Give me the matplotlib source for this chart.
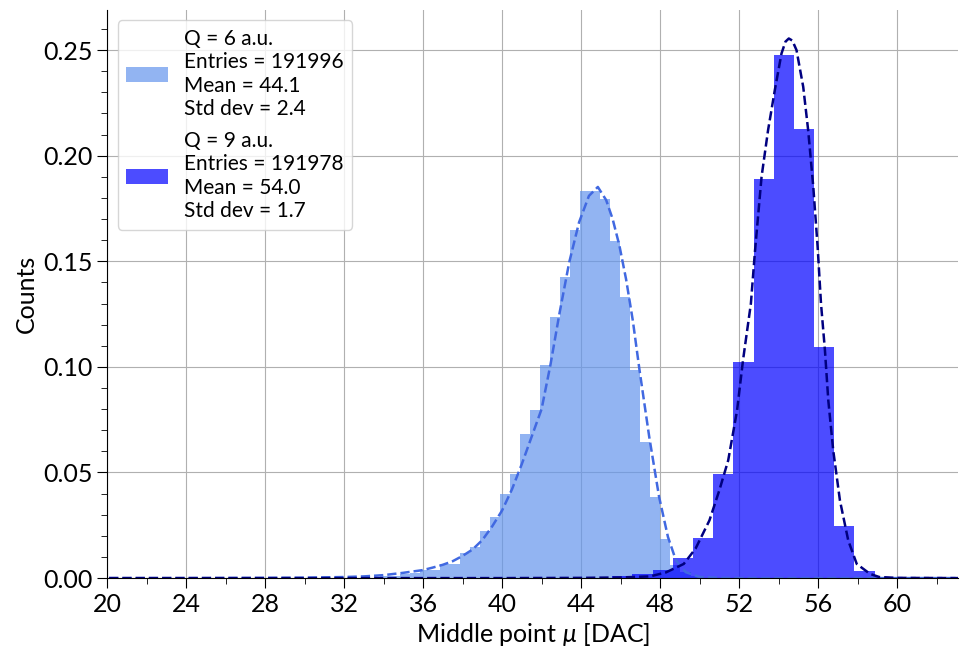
import numpy as np
import matplotlib
matplotlib.use("Agg")
import matplotlib.pyplot as plt
from matplotlib.ticker import MultipleLocator, FormatStrFormatter

plt.rcParams['font.family'] = ['Lato', 'DejaVu Sans']
plt.rcParams['mathtext.fontset'] = 'custom'
plt.rcParams['mathtext.it'] = 'Lato:italic'
plt.rcParams['mathtext.rm'] = 'Lato'

# Q = 6 a.u. histogram (normalised), 32 bins
q6_range = (33.81, 50.05)
q6_heights = [0.0008, 0.0012, 0.0018, 0.0025, 0.0036, 0.0040, 0.0067, 0.0067,
              0.0118, 0.0149, 0.0225, 0.0288, 0.0396, 0.0494, 0.0683, 0.0794,
              0.1007, 0.1236, 0.1424, 0.1647, 0.1832, 0.1832, 0.1797, 0.1595,
              0.1329, 0.0983, 0.0644, 0.0386, 0.0186, 0.0060, 0.0030, 0.0012]

# Q = 9 a.u. histogram (normalised), 14 bins
q9_range = (45.58, 59.89)
q9_heights = [0.0008, 0.0020, 0.0036, 0.0096, 0.0192, 0.0492, 0.1021,
              0.1889, 0.2476, 0.2126, 0.1092, 0.0249, 0.0032, 0.0003]

# fitted curves
fit6_x = [20.1, 24, 28, 30, 32, 33, 34, 35, 36, 36.5, 37, 37.5, 38, 38.5, 39,
          39.5, 40, 40.5, 41, 41.5, 42, 42.45, 42.9, 43.4, 43.9, 44.4, 44.85,
          45.27, 45.6, 45.94, 46.28, 46.62, 46.96, 47.45, 47.95, 48.4, 48.8,
          49.3, 50, 51, 52, 63.1]
fit6_y = [0.0, 0.0, 0.0001, 0.0002, 0.0005, 0.0008, 0.0014, 0.0025, 0.0038,
          0.0050, 0.0063, 0.0080, 0.0105, 0.0135, 0.0180, 0.0245, 0.0320,
          0.0420, 0.0540, 0.0670, 0.0800, 0.1010, 0.1250, 0.1495, 0.1685,
          0.1810, 0.1852, 0.1790, 0.1700, 0.1575, 0.1415, 0.1220, 0.0985,
          0.0670, 0.0385, 0.0195, 0.0085, 0.0028, 0.0005, 0.0001, 0.0, 0.0]

fit9_x = [20.1, 40, 44, 46, 47.5, 48.3, 49.2, 49.8, 50.5, 51.0, 51.45, 51.9,
          52.2, 52.6, 52.8, 53.14, 53.47, 53.81, 54.15, 54.35, 54.52, 54.7,
          54.91, 55.25, 55.5, 55.76, 55.98, 56.15, 56.35, 56.52, 56.77, 57.11,
          57.53, 57.96, 58.63, 59.1, 60, 63.1]
fit9_y = [0.0, 0.0, 0.0001, 0.0003, 0.0008, 0.0027, 0.0067, 0.0140, 0.0273,
          0.0415, 0.0557, 0.0794, 0.1031, 0.1300, 0.1540, 0.1900, 0.2121,
          0.2310, 0.2484, 0.2540, 0.2555, 0.2545, 0.2500, 0.2326, 0.2121,
          0.1852, 0.1568, 0.1300, 0.1078, 0.0841, 0.0604, 0.0367, 0.0178,
          0.0067, 0.0020, 0.0005, 0.0001, 0.0]

label6 = "Q = 6 a.u.\nEntries = 191996\nMean = 44.1\nStd dev = 2.4"
label9 = "Q = 9 a.u.\nEntries = 191978\nMean = 54.0\nStd dev = 1.7"

fig = plt.figure(figsize=(9.65, 6.66), dpi=100)
ax = fig.add_axes([0.111, 0.132, 0.882, 0.853])

edges6 = np.linspace(q6_range[0], q6_range[1], len(q6_heights) + 1)
edges9 = np.linspace(q9_range[0], q9_range[1], len(q9_heights) + 1)

ax.hist(edges6[:-1], bins=edges6, weights=q6_heights, color='cornflowerblue',
        alpha=0.7, label=label6)
ax.hist(edges9[:-1], bins=edges9, weights=q9_heights, color='blue',
        alpha=0.7, label=label9)
ax.plot(fit6_x, fit6_y, linestyle='--', color='royalblue', lw=1.8)
ax.plot(fit9_x, fit9_y, linestyle='--', color='navy', lw=1.8)

ax.set_xlim(20, 63.1)
ax.set_ylim(0, 0.269)
ax.xaxis.set_major_locator(MultipleLocator(4))
ax.xaxis.set_minor_locator(MultipleLocator(2))
ax.yaxis.set_major_locator(MultipleLocator(0.05))
ax.yaxis.set_minor_locator(MultipleLocator(0.01))
ax.yaxis.set_major_formatter(FormatStrFormatter('%.2f'))
ax.grid(True, which='major', color='#b0b0b0', lw=0.8)
ax.set_axisbelow(True)
for s in ['top', 'right']:
    ax.spines[s].set_visible(False)
ax.tick_params(which='major', length=7, labelsize=18)
ax.tick_params(which='minor', length=4)

ax.set_xlabel(r"Middle point $\mu$ [DAC]", fontsize=18)
ax.set_ylabel("Counts", fontsize=18)
leg = ax.legend(loc='upper left', fontsize=15, borderaxespad=0.5,
                labelspacing=0.55)
for t in leg.get_texts():
    t.set_linespacing(1.22)

fig.savefig("out.png", dpi=100)
